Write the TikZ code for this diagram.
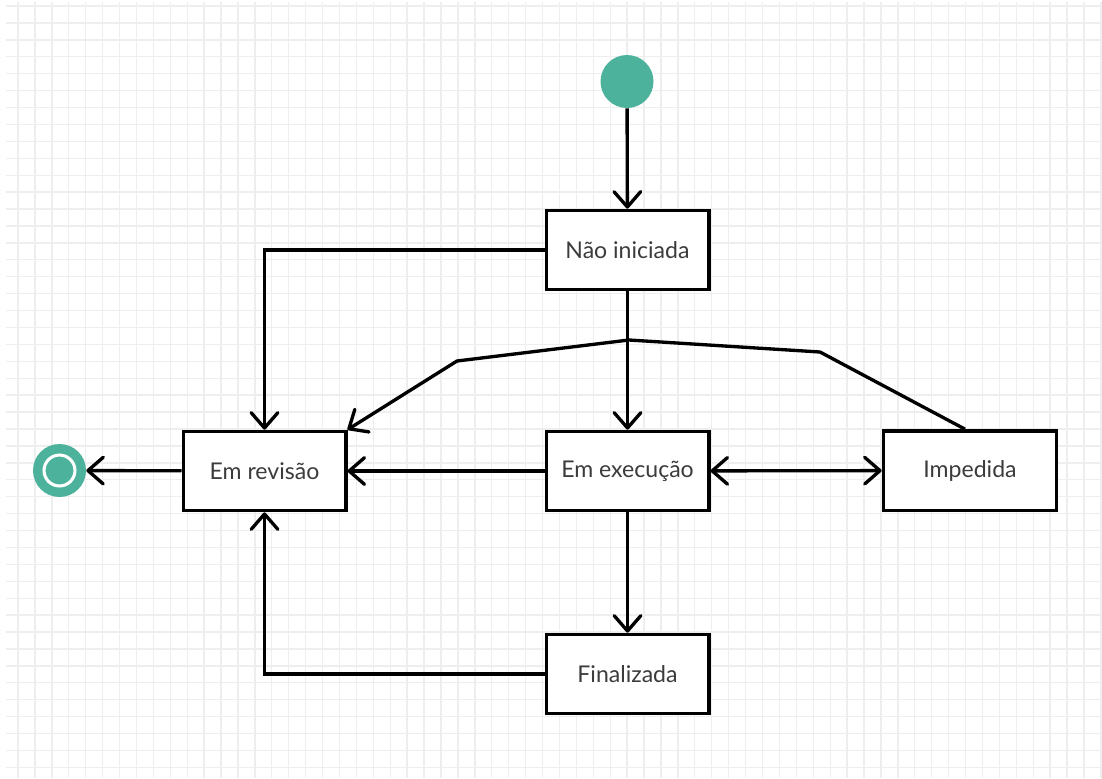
\documentclass[tikz,border=0pt]{standalone}
\usepackage{fontspec}
\setmainfont{Lato}
\usetikzlibrary{arrows.meta}

\definecolor{stateteal}{RGB}{76,178,155}
\definecolor{gridlight}{RGB}{238,238,238}
\definecolor{labelgray}{RGB}{60,60,60}

\begin{document}
\begin{tikzpicture}[x=0.75pt,y=-0.75pt,
  state/.style={draw=black, line width=2.5pt, fill=white,
    minimum width=122pt, minimum height=59.5pt, inner sep=0pt,
    font=\fontsize{17.3}{20}\selectfont, text=labelgray},
  wide state/.style={state, minimum width=130pt},
  barb/.tip={Straight Barb[length=11.5pt,width=20pt,round]},
  flow/.style={line width=2.5pt, -barb},
  both flow/.style={line width=2.5pt, barb-barb},
  pseudo/.style={circle, fill=stateteal, draw=none, inner sep=0pt, minimum size=39.75pt},
  gridline/.style={draw=gridlight, line width=1pt},
]
% page and background grid
\fill[white] (0,0) rectangle (1102,778);
\useasboundingbox (0,0) rectangle (1102,778);
\foreach \k in {0,...,45} {
  \draw[gridline] (6,6+16.92*\k) -- (1102,6+16.92*\k);
}
\foreach \k in {0,...,64} {
  \draw[gridline] (18+16.92*\k,2) -- (18+16.92*\k,778);
}

% initial and final pseudo-states
\node[pseudo] (ini) at (627,81.5) {};
\node[pseudo] (fim) at (59.5,470.5) {};
\draw[white, line width=2.3pt] (fim.center) circle (11.6pt);

% states
\node[state] (nao) at (627.5,250) {Não iniciada};
\node[state] (rev) at (264.5,471) {Em revisão};
\node[state] (exe) at (627.5,471) {Em execução};
\node[wide state] (imp) at (970,470.5) {Impedida};
\node[state] (fin) at (627.5,674) {Finalizada};

% route of the Impedida -> Em revisão transition
\coordinate (r1) at (820,352);
\coordinate (r2) at (629,340);
\coordinate (r3) at (457,361);

% transitions
\draw[flow] (ini) -- (nao);
\draw[flow] (nao.west) -| (rev.north);
\draw[flow] (nao) -- (exe);
\draw[flow] ([xshift=-3.75pt]imp.north) -- (r1) -- (r2) -- (r3) -- (rev.north east);
\draw[flow] (exe) -- (rev);
\draw[both flow] (exe) -- (imp);
\draw[flow] (exe) -- (fin);
\draw[flow] (fin.west) -| (rev.south);
\draw[flow] (rev) -- (fim);
\end{tikzpicture}
\end{document}
